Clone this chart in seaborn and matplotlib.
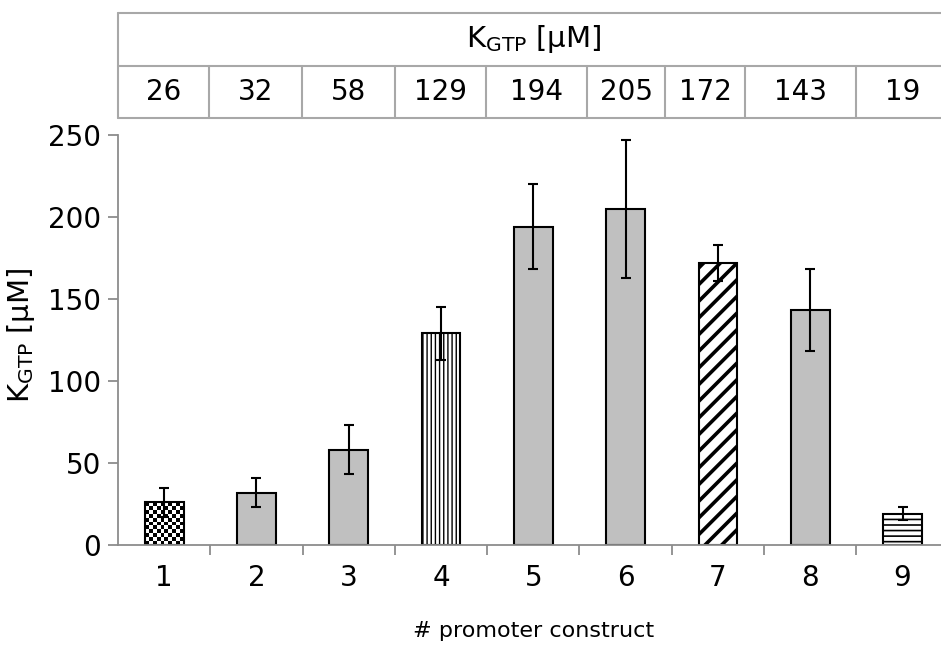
import numpy as np
import pandas as pd
import matplotlib
matplotlib.use("Agg")
import matplotlib.pyplot as plt
import seaborn as sns

# Data
constructs = ["1", "2", "3", "4", "5", "6", "7", "8", "9"]
k_gtp = [26, 32, 58, 129, 194, 205, 172, 143, 19]
k_gtp_err = [9, 9, 15, 16, 26, 42, 11, 25, 4]
table_values = ["26", "32", "58", "129", "194", "205", "172", "143", "19"]
header_text = r"K$_{\mathrm{GTP}}$ [µM]"
x_label = "# promoter construct"
y_ticks = [0, 50, 100, 150, 200, 250]

# Layout / style
cell_edges = [-0.5, 0.49, 1.49, 2.5, 3.49, 4.58, 5.43, 6.29, 7.5, 8.5]
bar_hatches = [None, None, None, "||||", None, None, "//", None, "---"]
hatch_widths = [1.0, 1.0, 1.0, 1.0, 1.0, 1.0, 2.6, 1.0, 1.2]
axis_grey = "#8c8c8c"
table_grey = "#a8a8a8"
bar_grey = "#c0c0c0"

sns.set_theme(style="white")
plt.rcParams["font.family"] = ["DejaVu Sans"]
plt.rcParams["mathtext.fontset"] = "dejavusans"
plt.rcParams["hatch.color"] = "black"
plt.rcParams["text.color"] = "black"
plt.rcParams["axes.labelcolor"] = "black"

df = pd.DataFrame({"construct": constructs, "k_gtp": k_gtp, "err": k_gtp_err})

W, H = 941, 648
fig = plt.figure(figsize=(W / 100, H / 100), dpi=100)
ax_left, ax_width = 118 / W, 830.7 / W
ax = fig.add_axes([ax_left, (H - 545) / H, ax_width, 410 / H])

sns.barplot(data=df, x="construct", y="k_gtp", color=bar_grey, saturation=1,
            edgecolor="black", linewidth=1.5, width=0.42, errorbar=None, ax=ax)

bars = list(ax.patches)
for patch, hatch, hw in zip(bars, bar_hatches, hatch_widths):
    if hatch:
        patch.set_facecolor("white")
        patch.set_hatch(hatch)
        if hasattr(patch, "set_hatch_linewidth"):
            patch.set_hatch_linewidth(hw)

# Checkerboard fill for construct 1
p0 = bars[0]
x0, w0, h0 = p0.get_x(), p0.get_width(), p0.get_height()
nx = 10
ny = max(1, int(round(h0 / 2.45)))
checker = (np.indices((ny, nx)).sum(axis=0) % 2).astype(float)
p0.set_facecolor("none")
ax.imshow(checker, cmap="gray", extent=(x0, x0 + w0, 0, h0), aspect="auto",
          interpolation="nearest", origin="lower", zorder=0.5, clip_path=p0,
          vmin=0, vmax=1)

ax.errorbar(x=np.arange(len(constructs)), y=df["k_gtp"], yerr=df["err"],
            fmt="none", ecolor="black", elinewidth=1.5, capsize=3.3,
            capthick=1.5, zorder=3)

ax.set_xlim(-0.5, 8.5)
ax.set_ylim(0, 250)
ax.set_yticks(y_ticks)
ax.set_yticklabels([str(t) for t in y_ticks])

for side in ["top", "right"]:
    ax.spines[side].set_visible(False)
for side in ["left", "bottom"]:
    ax.spines[side].set_color(axis_grey)
    ax.spines[side].set_linewidth(1.3)

ax.tick_params(axis="y", which="major", length=7, width=1.3, color=axis_grey,
               labelsize=20, pad=5, left=True, labelcolor="black")
ax.tick_params(axis="x", which="major", length=0, labelsize=20, pad=14,
               labelcolor="black")
ax.set_xticks(np.arange(0.5, 9.5, 1.0), minor=True)
ax.tick_params(axis="x", which="minor", length=7, width=1.3, color=axis_grey,
               bottom=True)

ax.set_xlabel(x_label, fontsize=16)
ax.xaxis.set_label_coords(0.5, -0.185)
ax.set_ylabel(header_text, fontsize=21)
ax.yaxis.set_label_coords(-0.097, 0.51)

# Summary table above the plot
tax = fig.add_axes([ax_left, (H - 118) / H, ax_width, 105 / H])
tax.set_xlim(-0.5, 8.5)
tax.set_ylim(0, 2)
tax.axis("off")
for yv in (0, 1, 2):
    tax.plot([-0.5, 8.5], [yv, yv], color=table_grey, lw=1.5, clip_on=False)
tax.plot([-0.5, -0.5], [0, 2], color=table_grey, lw=1.5, clip_on=False)
for e in cell_edges[1:-1]:
    tax.plot([e, e], [0, 1], color=table_grey, lw=1.5, clip_on=False)
tax.text(4.0, 1.5, header_text, ha="center", va="center", fontsize=21)
for i, val in enumerate(table_values):
    cx = (cell_edges[i] + cell_edges[i + 1]) / 2
    tax.text(cx, 0.5, val, ha="center", va="center", fontsize=20)

fig.savefig("out.png", dpi=100)
